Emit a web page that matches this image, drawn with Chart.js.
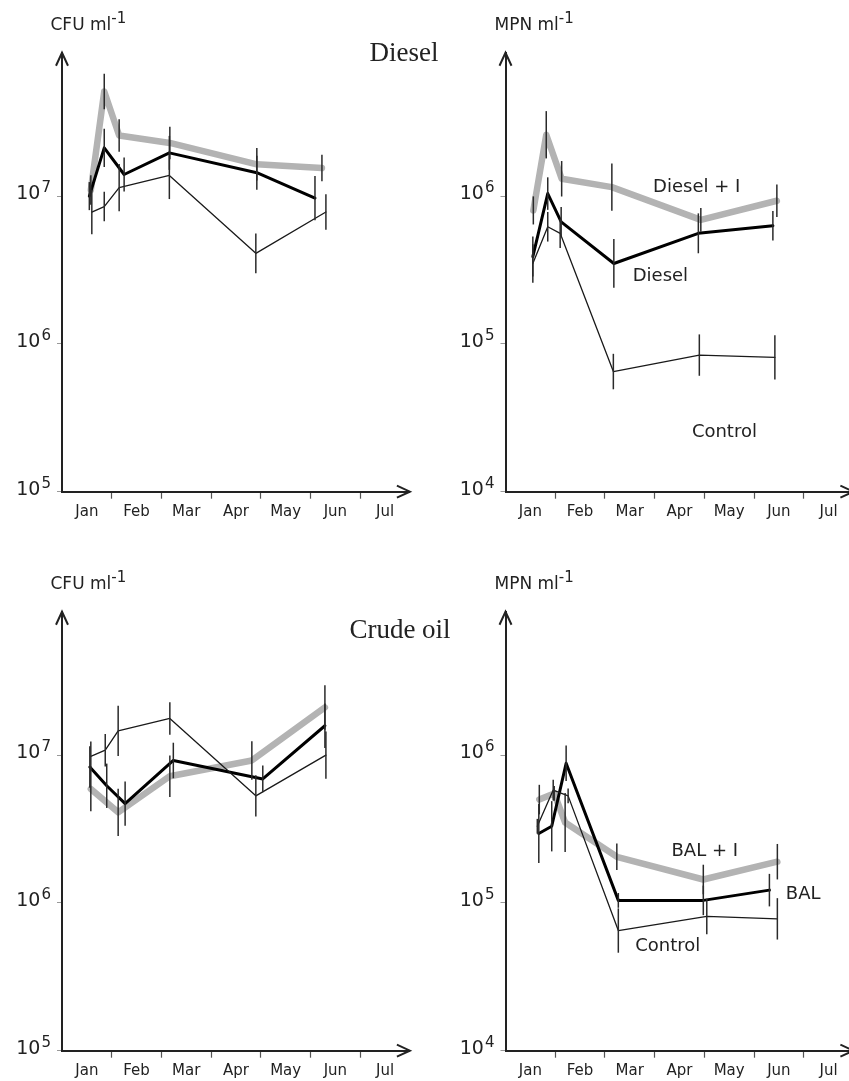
<!DOCTYPE html>
<html>
<head>
<meta charset="utf-8">
<script src="https://cdn.jsdelivr.net/npm/chart.js@4.4.0/dist/chart.umd.min.js"></script>
<style>
html, body { margin:0; padding:0; background:#fff; overflow:hidden; width:849px; height:1081px; }
canvas { position:absolute; }
.t { position:absolute; white-space:nowrap; color:#222; }
</style>
</head>
<body>
<canvas id="dieselCfu" width="424" height="545" style="left:0;top:0"></canvas>
<canvas id="dieselMpn" width="434" height="545" style="left:424px;top:0"></canvas>
<canvas id="crudeCfu" width="424" height="545" style="left:0;top:559px"></canvas>
<canvas id="crudeMpn" width="434" height="545" style="left:424px;top:559px"></canvas>
<script>
// x values are months since 1 Jan, y values are counts per ml, err is +/- in log10 units
var months = ['Jan', 'Feb', 'Mar', 'Apr', 'May', 'Jun', 'Jul'];

// Diesel, CFU
var dieselCfuControlX = [0.60, 0.85, 1.15, 2.16, 3.90, 5.31];
var dieselCfuControl = [7.8e6, 8.5e6, 1.14e7, 1.38e7, 4.1e6, 7.8e6];
var dieselCfuControlErr = [0.15, 0.10, 0.16, 0.16, 0.135, 0.12];
var dieselCfuX = [0.55, 0.85, 1.25, 2.16, 3.92, 5.09];
var dieselCfuVals = [1.0e7, 2.12e7, 1.4e7, 1.96e7, 1.44e7, 9.7e6];
var dieselCfuErr = [0.095, 0.13, 0.115, 0.115, 0.115, 0.15];
var dieselICfuX = [0.58, 0.85, 1.15, 2.17, 3.92, 5.23];
var dieselICfu = [1.1e7, 5.1e7, 2.57e7, 2.29e7, 1.64e7, 1.55e7];
var dieselICfuErr = [0.10, 0.12, 0.11, 0.11, 0.11, 0.09];

// Diesel, MPN
var dieselMpnControlX = [0.55, 0.85, 1.10, 2.17, 3.90, 5.42];
var dieselMpnControl = [3.5e5, 6.2e5, 5.6e5, 6.5e4, 8.4e4, 8.1e4];
var dieselMpnControlErr = [0.13, 0.10, 0.10, 0.12, 0.14, 0.15];
var dieselMpnX = [0.55, 0.85, 1.12, 2.18, 3.88, 5.38];
var dieselMpnVals = [3.9e5, 1.04e6, 6.7e5, 3.5e5, 5.6e5, 6.3e5];
var dieselMpnErr = [0.135, 0.11, 0.10, 0.165, 0.135, 0.10];
var dieselIMpnX = [0.56, 0.82, 1.13, 2.14, 3.93, 5.46];
var dieselIMpn = [8.0e5, 2.6e6, 1.31e6, 1.15e6, 6.9e5, 9.3e5];
var dieselIMpnErr = [0.095, 0.16, 0.12, 0.16, 0.08, 0.11];

// Crude oil, CFU
var crudeCfuControlX = [0.58, 0.87, 1.13, 2.17, 3.90, 5.31];
var crudeCfuControl = [9.8e6, 1.08e7, 1.46e7, 1.77e7, 5.3e6, 1.0e7];
var crudeCfuControlErr = [0.10, 0.11, 0.17, 0.11, 0.14, 0.16];
var crudeCfuX = [0.56, 0.90, 1.27, 2.24, 4.04, 5.29];
var crudeCfuVals = [8.3e6, 6.2e6, 4.7e6, 9.2e6, 6.9e6, 1.58e7];
var crudeCfuErr = [0.14, 0.15, 0.15, 0.12, 0.09, 0.15];
var crudeICfuX = [0.58, 1.13, 2.17, 3.82, 5.29];
var crudeICfu = [5.9e6, 4.1e6, 7.2e6, 9.2e6, 2.1e7];
var crudeICfuErr = [0.15, 0.16, 0.14, 0.13, 0.15];

// Crude oil (BAL), MPN
var crudeMpnControlX = [0.64, 0.96, 1.26, 2.27, 4.05, 5.47];
var crudeMpnControl = [3.3e5, 5.8e5, 5.3e5, 6.5e4, 8.1e4, 7.8e4];
var crudeMpnControlErr = [0.05, 0.07, 0.05, 0.15, 0.12, 0.14];
var crudeMpnX = [0.67, 0.93, 1.22, 2.27, 3.98, 5.31];
var crudeMpnVals = [2.95e5, 3.3e5, 8.8e5, 1.04e5, 1.04e5, 1.22e5];
var crudeMpnErr = [0.20, 0.17, 0.12, 0.05, 0.10, 0.11];
var crudeIMpnX = [0.68, 0.98, 1.20, 2.24, 3.98, 5.47];
var crudeIMpn = [5.0e5, 5.5e5, 3.5e5, 2.05e5, 1.44e5, 1.9e5];
var crudeIMpnErr = [0.10, 0.05, 0.20, 0.09, 0.10, 0.12];

// in-plot labels: text, month, value at baseline
var dieselMpnNotes = [['Diesel + I', 2.97, 1.07e6], ['Diesel', 2.56, 2.66e5], ['Control', 3.75, 2.34e4]];
var crudeMpnNotes = [['BAL + I', 3.34, 2.07e5], ['BAL', 5.64, 1.07e5], ['Control', 2.61, 4.72e4]];

var looks = {
  control: { borderColor: '#1a1a1a', borderWidth: 1.3 },
  plain: { borderColor: '#000', borderWidth: 3 },
  inoc: { borderColor: '#b3b3b3', borderWidth: 6.5 }
};

function series(xs, ys, errs, look) {
  return {
    data: xs.map(function (x, i) { return { x: x, y: ys[i] }; }),
    err: errs,
    showLine: true,
    pointRadius: 0,
    tension: 0,
    fill: false,
    borderJoinStyle: 'round',
    borderCapStyle: 'round',
    borderColor: looks[look].borderColor,
    borderWidth: looks[look].borderWidth
  };
}

var extras = {
  id: 'extras',
  afterDatasetsDraw: function (chart) {
    var ctx = chart.ctx, xs = chart.scales.x, ys = chart.scales.y;
    ctx.save();
    ctx.strokeStyle = '#2a2a2a';
    ctx.lineWidth = 1.5;
    chart.data.datasets.forEach(function (ds) {
      ds.data.forEach(function (p, i) {
        var f = Math.pow(10, ds.err[i]);
        var px = xs.getPixelForValue(p.x);
        ctx.beginPath();
        ctx.moveTo(px, ys.getPixelForValue(p.y * f));
        ctx.lineTo(px, ys.getPixelForValue(p.y / f));
        ctx.stroke();
      });
    });
    ctx.restore();
  },
  afterDraw: function (chart) {
    var ctx = chart.ctx, a = chart.chartArea, xs = chart.scales.x, ys = chart.scales.y;
    ctx.save();
    // arrow heads
    ctx.strokeStyle = '#222';
    ctx.lineWidth = 2;
    ctx.beginPath();
    ctx.moveTo(a.left - 6, a.top + 13);
    ctx.lineTo(a.left, a.top);
    ctx.lineTo(a.left + 6, a.top + 13);
    ctx.moveTo(a.right - 13, a.bottom - 6);
    ctx.lineTo(a.right, a.bottom);
    ctx.lineTo(a.right - 13, a.bottom + 6);
    ctx.stroke();
    // 10^n labels
    ctx.fillStyle = '#222';
    ctx.textBaseline = 'alphabetic';
    ys.ticks.forEach(function (t) {
      var e = String(Math.round(Math.log10(t.value)));
      var y = ys.getPixelForValue(t.value) + 3;
      ctx.font = '19px "DejaVu Sans"';
      var w1 = ctx.measureText('10').width;
      ctx.font = '15px "DejaVu Sans"';
      var w2 = ctx.measureText(e).width;
      var x0 = a.left - 11 - w1 - w2 - 1;
      ctx.font = '19px "DejaVu Sans"';
      ctx.fillText('10', x0, y);
      ctx.font = '15px "DejaVu Sans"';
      ctx.fillText(e, x0 + w1 + 1, y - 7);
    });
    // notes
    ctx.font = '18px "DejaVu Sans"';
    (chart.options.plugins.extras.notes || []).forEach(function (n) {
      ctx.fillText(n[0], xs.getPixelForValue(n[1]), ys.getPixelForValue(n[2]));
    });
    ctx.restore();
  }
};

function makePanel(id, yMin, yLeft, canvasLeft, sets, notes) {
  var cv = document.getElementById(id);
  var W = cv.width, H = cv.height;
  var bottom = 491.7, decades = 2.97, monthPx = 49.7;
  var right = yLeft + 7 * monthPx - canvasLeft;
  return new Chart(cv, {
    type: 'scatter',
    data: { datasets: sets },
    plugins: [extras],
    options: {
      responsive: false,
      animation: false,
      layout: { padding: { left: 0, top: bottom - decades * 147.8, right: W - right, bottom: 0 } },
      plugins: { legend: { display: false }, tooltip: { enabled: false }, extras: { notes: notes } },
      scales: {
        x: {
          type: 'linear', position: 'bottom', min: 0, max: 7,
          afterBuildTicks: function (s) {
            var t = [];
            for (var v = 0; v <= 7; v += 0.5) t.push({ value: v });
            s.ticks = t;
          },
          afterFit: function (s) { s.height = H - bottom; },
          border: { display: true, color: '#222', width: 2 },
          grid: {
            drawOnChartArea: false, drawTicks: true, tickLength: 7, tickWidth: 1.2,
            tickColor: function (c) {
              var v = c.tick ? c.tick.value : 0;
              return (Number.isInteger(v) && v > 0 && v < 7) ? '#555' : 'rgba(0,0,0,0)';
            }
          },
          ticks: {
            autoSkip: false, maxRotation: 0, padding: 4, color: '#222',
            font: { family: 'DejaVu Sans', size: 15 },
            callback: function (v) { var i = v - 0.5; return Number.isInteger(i) ? months[i] : ''; }
          }
        },
        y: {
          type: 'logarithmic', position: 'left', min: yMin, max: yMin * Math.pow(10, decades),
          afterBuildTicks: function (s) { s.ticks = [yMin, yMin * 10, yMin * 100].map(function (v) { return { value: v }; }); },
          afterFit: function (s) { s.width = yLeft - canvasLeft; },
          border: { display: true, color: '#222', width: 2 },
          grid: { drawOnChartArea: false, drawTicks: true, tickLength: 5, color: '#999' },
          ticks: { display: false }
        }
      }
    }
  });
}

makePanel('dieselCfu', 1e5, 62, 0, [
  series(dieselCfuControlX, dieselCfuControl, dieselCfuControlErr, 'control'),
  series(dieselCfuX, dieselCfuVals, dieselCfuErr, 'plain'),
  series(dieselICfuX, dieselICfu, dieselICfuErr, 'inoc')
], []);
makePanel('dieselMpn', 1e4, 505.5, 424, [
  series(dieselMpnControlX, dieselMpnControl, dieselMpnControlErr, 'control'),
  series(dieselMpnX, dieselMpnVals, dieselMpnErr, 'plain'),
  series(dieselIMpnX, dieselIMpn, dieselIMpnErr, 'inoc')
], dieselMpnNotes);
makePanel('crudeCfu', 1e5, 62, 0, [
  series(crudeCfuControlX, crudeCfuControl, crudeCfuControlErr, 'control'),
  series(crudeCfuX, crudeCfuVals, crudeCfuErr, 'plain'),
  series(crudeICfuX, crudeICfu, crudeICfuErr, 'inoc')
], []);
makePanel('crudeMpn', 1e4, 505.5, 424, [
  series(crudeMpnControlX, crudeMpnControl, crudeMpnControlErr, 'control'),
  series(crudeMpnX, crudeMpnVals, crudeMpnErr, 'plain'),
  series(crudeIMpnX, crudeIMpn, crudeIMpnErr, 'inoc')
], crudeMpnNotes);

// page texts, placed by baseline
function text(html, x, base, size, family, k, center) {
  var d = document.createElement('div');
  d.className = 't';
  d.style.font = size + 'px/0 ' + family;
  d.style.top = (base - k * size) + 'px';
  d.style.left = x + 'px';
  if (center) d.style.transform = 'translateX(-50%)';
  d.innerHTML = html;
  document.body.appendChild(d);
}
var sup = '<span style="font-size:15px;position:relative;top:-7px">-1</span>';
text('CFU ml' + sup, 50.5, 30, 17, '"DejaVu Sans"', 0.346, false);
text('MPN ml' + sup, 494.5, 30, 17, '"DejaVu Sans"', 0.346, false);
text('CFU ml' + sup, 50.5, 589, 17, '"DejaVu Sans"', 0.346, false);
text('MPN ml' + sup, 494.5, 589, 17, '"DejaVu Sans"', 0.346, false);
text('Diesel', 404, 61, 27, '"Liberation Serif"', 0.3375, true);
text('Crude oil', 400, 638, 27, '"Liberation Serif"', 0.3375, true);
</script>
</body>
</html>
